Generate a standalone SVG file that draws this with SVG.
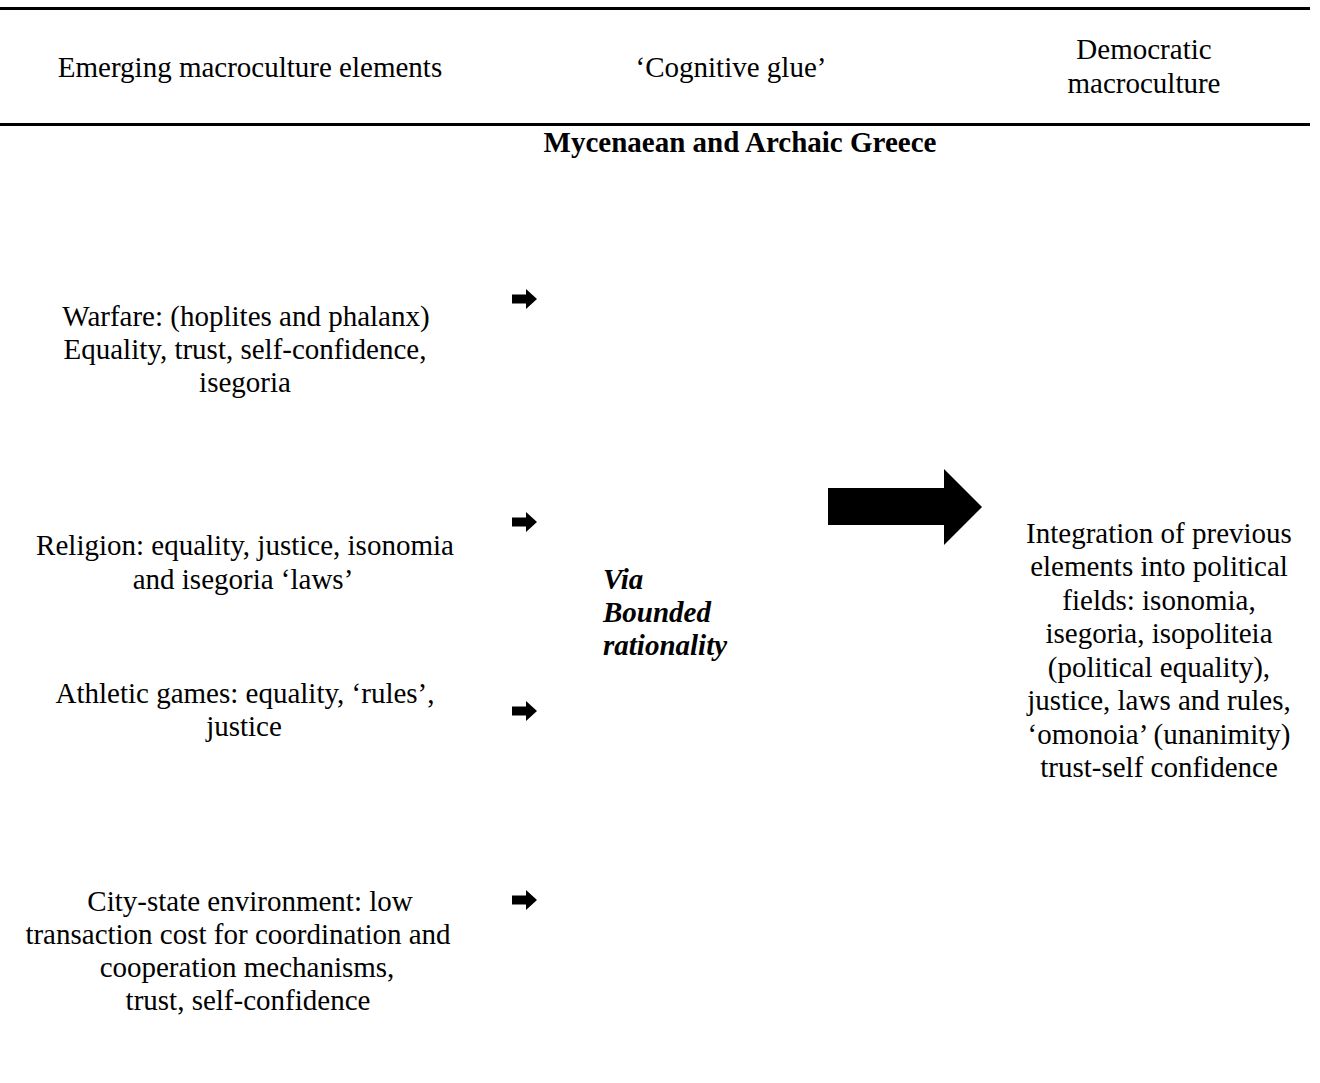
<svg xmlns="http://www.w3.org/2000/svg" width="1320" height="1083" viewBox="0 0 1320 1083">
<style>
text{font-family:"Liberation Serif","Times New Roman",serif;font-size:29px;fill:#000}
.c{text-anchor:middle}
.b{font-weight:bold}
.bi{font-weight:bold;font-style:italic}
</style>
<defs>
<path id="sa" d="M0,-4.5 H14 V-10 L25,0 L14,10 V4.5 H0 Z"/>
</defs>
<rect width="1320" height="1083" fill="#fff"/>
<g id="rules">
<rect x="0" y="7" width="1310" height="3" fill="#000"/>
<rect x="0" y="123" width="1310" height="3" fill="#000"/>
</g>
<g id="header">
<text class="c" x="250" y="77">Emerging macroculture elements</text>
<text class="c" x="731" y="77">‘Cognitive glue’</text>
<text class="c" x="1144" y="59">Democratic</text>
<text class="c" x="1144" y="93">macroculture</text>
<text class="c b" x="740" y="152">Mycenaean and Archaic Greece</text>
</g>
<g id="warfare">
<text class="c" x="246" y="326">Warfare: (hoplites and phalanx)</text>
<text class="c" x="245" y="359">Equality, trust, self-confidence,</text>
<text class="c" x="245" y="392">isegoria</text>
</g>
<g id="religion">
<text class="c" x="245" y="555">Religion: equality, justice, isonomia</text>
<text class="c" x="243" y="589">and isegoria ‘laws’</text>
</g>
<g id="athletic">
<text class="c" x="245" y="703">Athletic games: equality, ‘rules’,</text>
<text class="c" x="244" y="736">justice</text>
</g>
<g id="citystate">
<text class="c" x="250" y="911">City-state environment: low</text>
<text class="c" x="238" y="944">transaction cost for coordination and</text>
<text class="c" x="247" y="977">cooperation mechanisms,</text>
<text class="c" x="248" y="1010">trust, self-confidence</text>
</g>
<g id="via">
<text class="bi" x="603" y="589">Via</text>
<text class="bi" x="603" y="622">Bounded</text>
<text class="bi" x="603" y="655">rationality</text>
</g>
<g id="democratic">
<text class="c" x="1159" y="543">Integration of previous</text>
<text class="c" x="1159" y="576">elements into political</text>
<text class="c" x="1159" y="610">fields: isonomia,</text>
<text class="c" x="1159" y="643">isegoria, isopoliteia</text>
<text class="c" x="1159" y="677">(political equality),</text>
<text class="c" x="1159" y="710">justice, laws and rules,</text>
<text class="c" x="1159" y="744">‘omonoia’ (unanimity)</text>
<text class="c" x="1159" y="777">trust-self confidence</text>
</g>
<g id="connectors">
<use href="#sa" x="512" y="299"/>
<use href="#sa" x="512" y="522"/>
<use href="#sa" x="512" y="711"/>
<use href="#sa" x="512" y="900"/>
<path d="M828,488 H944 V469 L982,507 L944,545 V525 H828 Z" fill="#000"/>
</g>
</svg>
